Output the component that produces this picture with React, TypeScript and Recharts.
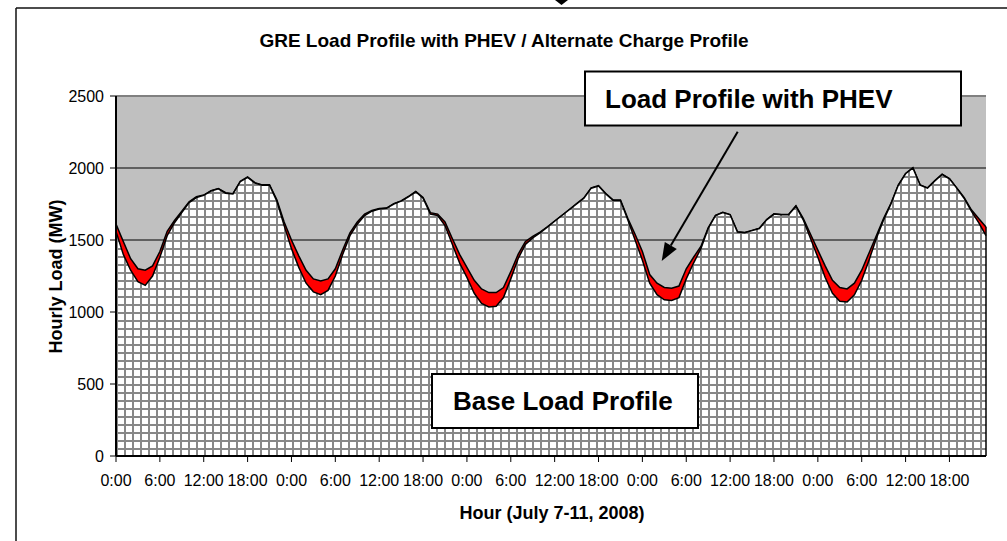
import React from 'react';
import { AreaChart, Area, XAxis, YAxis, CartesianGrid, ReferenceLine } from 'recharts';

const dayHours = [
  '0:00', '1:00', '2:00', '3:00', '4:00', '5:00', '6:00', '7:00', '8:00', '9:00', '10:00', '11:00',
  '12:00', '13:00', '14:00', '15:00', '16:00', '17:00', '18:00', '19:00', '20:00', '21:00', '22:00', '23:00',
];
const hourLabels = [...dayHours, ...dayHours, ...dayHours, ...dayHours, ...dayHours];

const baseLoad = [
  1560, 1400, 1290, 1210, 1185, 1250, 1380, 1530, 1620, 1690, 1760, 1795, 1810, 1840, 1855, 1825, 1820, 1905, 1935, 1895, 1880, 1880, 1770, 1600,
  1440, 1310, 1200, 1140, 1120, 1150, 1250, 1400, 1530, 1610, 1670, 1700, 1715, 1720, 1750, 1770, 1800, 1835, 1790, 1680, 1670, 1600, 1470, 1340,
  1240, 1130, 1060, 1035, 1040, 1100, 1230, 1370, 1470, 1515, 1550, 1590, 1630, 1670, 1710, 1750, 1790, 1860, 1875, 1820, 1775, 1775, 1640, 1500,
  1360, 1200, 1120, 1085, 1080, 1100, 1230, 1340, 1440, 1580, 1670, 1690, 1675, 1555, 1550, 1565, 1580, 1640, 1680, 1675, 1675, 1735, 1640, 1510,
  1380, 1240, 1130, 1075, 1070, 1120, 1220, 1360, 1510, 1640, 1750, 1880, 1960, 2000, 1880, 1860, 1910, 1955, 1925, 1860, 1790, 1700, 1620, 1530,
];

const phevLoad = [
  1610, 1490, 1370, 1300, 1290, 1320, 1420, 1560, 1635, 1700, 1765, 1800, 1812, 1842, 1857, 1828, 1822, 1908, 1938, 1898, 1883, 1883, 1780, 1625,
  1500, 1390, 1290, 1230, 1215, 1230, 1300, 1430, 1550, 1625, 1680, 1705, 1718, 1722, 1752, 1772, 1802, 1838, 1795, 1690, 1680, 1625, 1510, 1400,
  1310, 1220, 1160, 1135, 1135, 1170, 1280, 1400, 1490, 1525, 1555, 1592, 1632, 1672, 1712, 1752, 1792, 1862, 1878, 1823, 1778, 1778, 1650, 1540,
  1420, 1260, 1200, 1170, 1165, 1180, 1300, 1380, 1455, 1585, 1672, 1692, 1677, 1558, 1552, 1567, 1582, 1642, 1682, 1677, 1677, 1737, 1650, 1540,
  1430, 1320, 1220, 1170, 1160, 1200, 1290, 1410, 1530, 1650, 1755, 1882, 1962, 2002, 1882, 1862, 1912, 1957, 1927, 1862, 1795, 1710, 1650, 1590,
];

const yTicks = [0, 500, 1000, 1500, 2000, 2500];

const data = baseLoad.map((b, i) => ({ h: i, base: b, phev: phevLoad[i] }));
const lastIdx = data.length - 1;

const FONT = 'Liberation Sans, Arial, Helvetica, sans-serif';

export default function App() {
  return (
    <div style={{ position: 'absolute', left: 0, top: 0, width: 1007, height: 541, background: '#fff' }}>
      <div style={{ position: 'absolute', left: 0, top: 0 }}>
        <AreaChart
          width={1007}
          height={541}
          data={data}
          margin={{ top: 96, right: 21, bottom: 55, left: 56 }}
        >
          <defs>
            <pattern id="hatch" x={116} y={96} width={8} height={8} patternUnits="userSpaceOnUse">
              <rect x={0} y={0} width={8} height={8} fill="#ffffff" />
              <rect x={0} y={0} width={8} height={2} fill="#888888" />
              <rect x={0} y={0} width={2} height={8} fill="#888888" />
            </pattern>
          </defs>
          <CartesianGrid vertical={false} stroke="#000" fill="#c0c0c0" fillOpacity={1} />
          <Area
            type="linear"
            dataKey="phev"
            stroke="#000"
            strokeWidth={1.5}
            fill="#ff0000"
            fillOpacity={1}
            isAnimationActive={false}
            dot={false}
            activeDot={false}
          />
          <Area
            type="linear"
            dataKey="base"
            stroke="#000"
            strokeWidth={1.5}
            fill="url(#hatch)"
            fillOpacity={1}
            isAnimationActive={false}
            dot={false}
            activeDot={false}
          />
          <ReferenceLine y={2500} stroke="#808080" strokeWidth={2} />
          <ReferenceLine
            segment={[{ x: lastIdx, y: 0 }, { x: lastIdx, y: phevLoad[lastIdx] }]}
            stroke="#000"
            strokeWidth={1.5}
          />
          <XAxis
            dataKey="h"
            type="category"
            interval={5}
            tickFormatter={(v: number) => hourLabels[v]}
            axisLine={{ stroke: '#000', strokeWidth: 2 }}
            tickLine={{ stroke: '#000' }}
            tickSize={6}
            tickMargin={13}
            tick={{ fontSize: 16, fill: '#000', fontFamily: FONT }}
            height={30}
          />
          <YAxis
            type="number"
            domain={[0, 2500]}
            ticks={yTicks}
            interval={0}
            axisLine={{ stroke: '#000', strokeWidth: 2 }}
            tickLine={{ stroke: '#000' }}
            tickSize={6}
            tickMargin={6}
            tick={{ fontSize: 16, fill: '#000', fontFamily: FONT }}
            width={60}
          />
        </AreaChart>
      </div>
      <svg
        width={1007}
        height={541}
        style={{ position: 'absolute', left: 0, top: 0, pointerEvents: 'none' }}
        fontFamily={FONT}
      >
        <line x1={16} y1={8} x2={16} y2={541} stroke="#111" strokeWidth={1.5} />
        <line x1={16} y1={8} x2={1007} y2={8} stroke="#111" strokeWidth={1.5} />
        <polygon points="555,0 568,0 561.5,5" fill="#000" />
        <text x={504} y={47} textAnchor="middle" fontSize={19} fontWeight="bold" fill="#000">
          GRE Load Profile with PHEV / Alternate Charge Profile
        </text>
        <text transform="translate(62,276.5) rotate(-90)" textAnchor="middle" fontSize={18} fontWeight="bold" fill="#000">
          Hourly Load (MW)
        </text>
        <text x={552} y={519} textAnchor="middle" fontSize={18} fontWeight="bold" fill="#000">
          Hour (July 7-11, 2008)
        </text>
        <rect x={585} y={71.5} width={376} height={54} fill="#fff" stroke="#000" strokeWidth={2} />
        <text x={605} y={108} fontSize={26} fontWeight="bold" fill="#000">
          Load Profile with PHEV
        </text>
        <line x1={737.7} y1={131.7} x2={670.8} y2={245.5} stroke="#000" strokeWidth={2} />
        <polygon points="661.7,261 676.8,249 664.8,242" fill="#000" />
        <rect x={432} y={374} width={266} height={54} fill="#fff" stroke="#000" strokeWidth={2} />
        <text x={453} y={410} fontSize={26} fontWeight="bold" fill="#000">
          Base Load Profile
        </text>
      </svg>
    </div>
  );
}
